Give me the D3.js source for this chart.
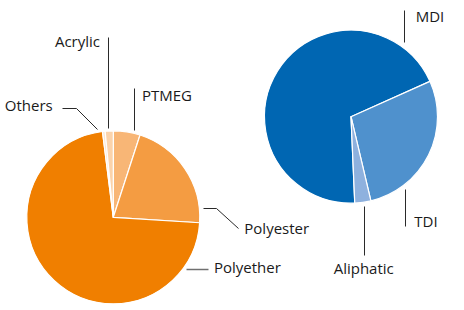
<!DOCTYPE html>
<html>
<head>
<meta charset="utf-8">
<script src="https://cdn.jsdelivr.net/npm/d3@7"></script>
<style>
  html, body { margin: 0; padding: 0; background: #fff; }
  svg { display: block; }
  text { font-family: "Open Sans", "Noto Sans", sans-serif; font-size: 15px; fill: #1a1a1a; }
</style>
</head>
<body>
<svg id="chart" width="464" height="310"></svg>
<script>
// ---- data ----
const polyolCategories = ["PTMEG", "Polyester", "Polyether", "Others", "Acrylic"];
const polyolValues = [5, 21, 72, 0.5, 1.5];
const isoCategories = ["MDI", "TDI", "Aliphatic"];
const isoValues = [69, 28, 3];

// ---- styles / layout ----
const polyolColors = ["#f8b676", "#f49c42", "#f07f00", "#fde6cf", "#fbd3ab"];
const isoColors = ["#0066b2", "#4f91cd", "#8eb1de"];

const leftPie = { cx: 113.3, cy: 217.3, r: 86.5, start: 0 };
const rightPie = { cx: 351, cy: 116.7, r: 86.5, start: 177.5 * Math.PI / 180 };

// label layout relative to pie centre: leader polyline + text anchor
const polyolLabels = {
  "Acrylic":   { pts: [[-5.3, -180.3], [-5.3, -89.3]], tx: -13.3, ty: -170.3, anchor: "end" },
  "PTMEG":     { pts: [[20.7, -129.3], [20.7, -87.3]], tx: 28.7, ty: -116.3, anchor: "start" },
  "Others":    { pts: [[-51.3, -109.3], [-37.3, -109.3], [-16.3, -88.3]], tx: -60.6, ty: -106.3, anchor: "end" },
  "Polyester": { pts: [[89.7, -9], [102.7, -9], [124.7, 11]], tx: 131, ty: 17, anchor: "start" },
  "Polyether": { pts: [[72.7, 51.2], [94.7, 51.2]], tx: 100.7, ty: 56.2, anchor: "start", grey: true }
};
const isoLabels = {
  "MDI":       { pts: [[53.3, -106.7], [53.3, -74.4]], tx: 64.7, ty: -94.7, anchor: "start" },
  "TDI":       { pts: [[54, 72.6], [54, 109.3]], tx: 63.3, ty: 110, anchor: "start" },
  "Aliphatic": { pts: [[13.3, 89.3], [13.3, 138.3]], tx: 12.7, ty: 157.3, anchor: "middle" }
};

const svg = d3.select("#chart");

function drawPie(cfg, cats, vals, colors, labels) {
  const data = cats.map((c, i) => ({ name: c, value: vals[i] }));
  const color = d3.scaleOrdinal().domain(cats).range(colors);
  const pie = d3.pie().value(d => d.value).sort(null)
    .startAngle(cfg.start).endAngle(cfg.start + 2 * Math.PI);
  const arc = d3.arc().innerRadius(0).outerRadius(cfg.r);

  const g = svg.append("g").attr("transform", `translate(${cfg.cx},${cfg.cy})`);
  g.selectAll("path.slice")
    .data(pie(data))
    .join("path")
    .attr("class", "slice")
    .attr("d", arc)
    .attr("fill", d => color(d.data.name))
    .attr("stroke", "#ffffff")
    .attr("stroke-width", 1.2)
    .attr("stroke-linejoin", "round");

  const snap = v => Math.round(v + cfg.cx % 1) - (cfg.cx % 1) + 0.5;
  const snapY = v => Math.round(v + cfg.cy % 1) - (cfg.cy % 1) + 0.5;
  const line = d3.line().x(p => snap(p[0])).y(p => snapY(p[1]));

  cats.forEach(c => {
    const L = labels[c];
    g.append("path")
      .attr("d", line(L.pts))
      .attr("fill", "none")
      .attr("stroke", L.grey ? "#707070" : "#2a2a2a")
      .attr("stroke-width", L.grey ? 1.5 : 1);
    g.append("text")
      .attr("x", L.tx)
      .attr("y", L.ty)
      .attr("text-anchor", L.anchor)
      .text(c);
  });
}

drawPie(leftPie, polyolCategories, polyolValues, polyolColors, polyolLabels);
drawPie(rightPie, isoCategories, isoValues, isoColors, isoLabels);
</script>
</body>
</html>
